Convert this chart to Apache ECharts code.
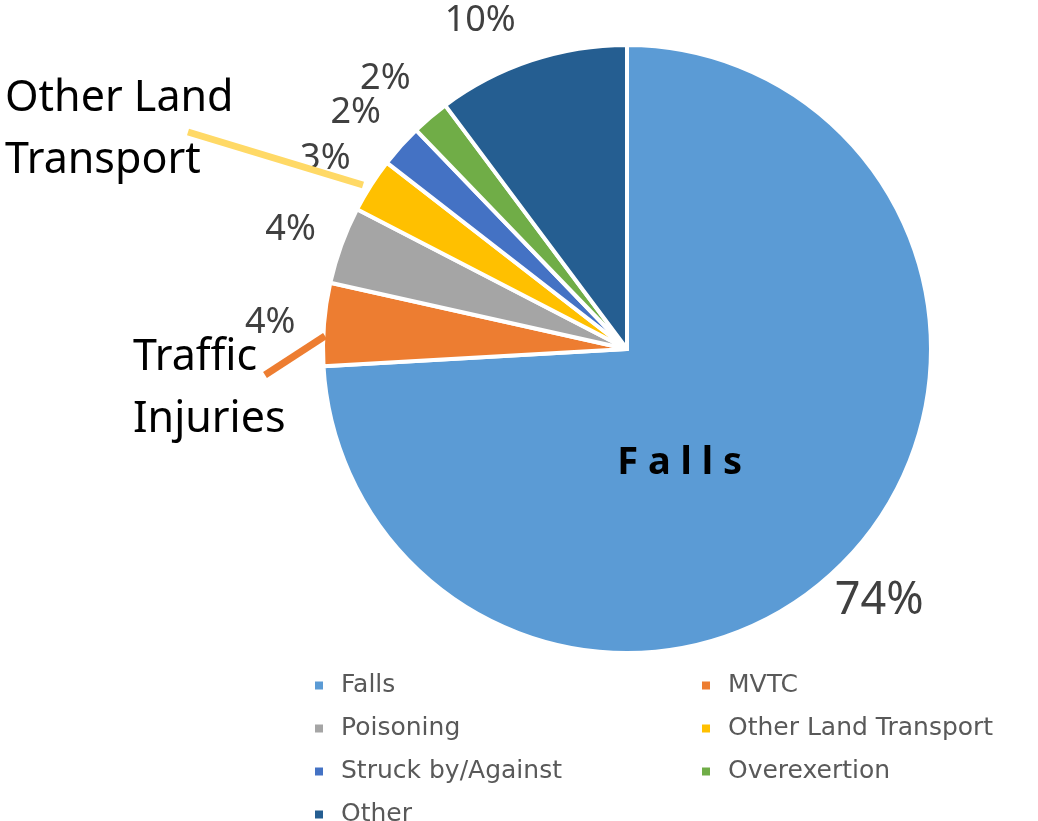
<!DOCTYPE html>
<html>
<head>
<meta charset="utf-8">
<script src="https://cdn.jsdelivr.net/npm/echarts@6/dist/echarts.min.js"></script>
<style>
html, body { margin: 0; padding: 0; background: #fff; }
#chart { width: 1038px; height: 821px; }
</style>
</head>
<body>
<div id="chart"></div>
<script>
// data
const categories = ['Falls', 'MVTC', 'Poisoning', 'Other Land Transport', 'Struck by/Against', 'Overexertion', 'Other'];
const shares = [74.1, 4.4, 4.1, 2.9, 2.3, 2.0, 10.2];
const colors = ['#5B9BD5', '#ED7D31', '#A5A5A5', '#FFC000', '#4472C4', '#70AD47', '#255E91'];
const legendLeftCol = ['Falls', 'Poisoning', 'Struck by/Against', 'Other'];
const legendRightCol = ['MVTC', 'Other Land Transport', 'Overexertion'];

(function () {
	let myChart = echarts.init(document.getElementById('chart'));
	const font = '"Noto Sans", sans-serif';

	// 主饼图
	const pieData = categories.map(function (name, i) {
		return {
			name: name,
			value: shares[i],
			itemStyle: { color: colors[i] },
			label: i === 0 ? {
				show: true,
				position: 'inside',
				offset: [-60, 8],
				formatter: function (p) { return p.name.split('').join(' '); },
				fontFamily: font,
				fontWeight: 'bold',
				fontSize: 38,
				color: '#000'
			} : { show: false }
		};
	});

	// 百分比标签环 (透明), 个别标签微调
	const labelOffsets = {
		'Falls': [-8, 6],
		'Struck by/Against': [-5, 3],
		'Overexertion': [-10, 3],
		'Other': [-34, 12]
	};
	const ringData = categories.map(function (name, i) {
		const item = { name: name, value: shares[i] };
		if (labelOffsets[name]) item.label = { offset: labelOffsets[name] };
		if (i === 0) item.label.fontSize = 45;
		return item;
	});

	const legendBase = {
		orient: 'vertical',
		top: 673,
		height: 200,
		padding: 0,
		itemWidth: 10,
		itemHeight: 10,
		itemGap: 18,
		icon: 'rect',
		selectedMode: false,
		textStyle: {
			fontFamily: '"DejaVu Sans", sans-serif',
			fontSize: 25,
			lineHeight: 24,
			color: '#595959',
			padding: [0, 0, 0, 12]
		}
	};

	const option = {
		animation: false,
		legend: [
			Object.assign({}, legendBase, { left: 313, data: legendLeftCol }),
			Object.assign({}, legendBase, { left: 700, data: legendRightCol })
		],
		series: [
			{
				name: 'main',
				type: 'pie',
				center: [627, 349],
				radius: 304,
				startAngle: 90,
				clockwise: true,
				data: pieData,
				itemStyle: { borderColor: '#fff', borderWidth: 4 },
				labelLine: { show: false },
				emphasis: { disabled: true }
			},
			{
				name: 'pct',
				type: 'pie',
				center: [627, 349],
				radius: [340, 370],
				startAngle: 90,
				clockwise: true,
				silent: true,
				avoidLabelOverlap: false,
				labelLayout: { hideOverlap: false },
				data: ringData,
				itemStyle: { color: 'transparent' },
				label: {
					show: true,
					position: 'inside',
					offset: [0, 3],
					formatter: function (p) { return Math.round(p.percent) + '%'; },
					fontFamily: font,
					fontSize: 36,
					color: '#404040'
				},
				labelLine: { show: false },
				emphasis: { disabled: true }
			}
		],
		// 注释文字和引线
		graphic: [
			{ type: 'line', z: 100, shape: { x1: 188, y1: 132, x2: 363, y2: 185 }, style: { stroke: '#FFD966', lineWidth: 7 } },
			{ type: 'line', z: 100, shape: { x1: 265, y1: 375, x2: 325, y2: 336 }, style: { stroke: '#ED7D31', lineWidth: 7 } },
			{ type: 'text', z: 101, left: 5, top: 68, style: { text: 'Other Land\nTransport', font: '43px "Noto Sans", sans-serif', fill: '#000', lineHeight: 62 } },
			{ type: 'text', z: 101, left: 133, top: 327, style: { text: 'Traffic\nInjuries', font: '43px "Noto Sans", sans-serif', fill: '#000', lineHeight: 62 } }
		]
	};
	myChart.setOption(option);
})();
</script>
</body>
</html>
